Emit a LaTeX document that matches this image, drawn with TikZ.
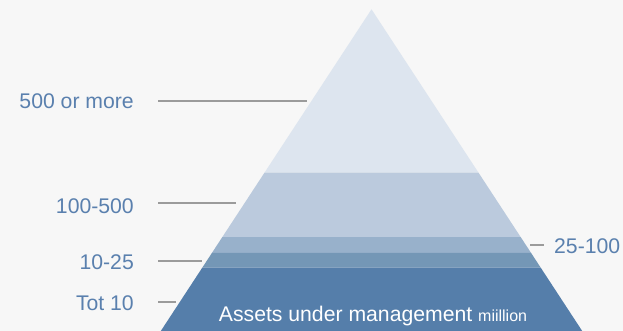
\documentclass[tikz,border=0pt]{standalone}
\usepackage{fontspec}
\setmainfont{Liberation Sans}
\usetikzlibrary{calc}

\definecolor{bgcol}{HTML}{F7F7F7}
\definecolor{tierA}{HTML}{DDE5EF}
\definecolor{tierB}{HTML}{BBCADD}
\definecolor{tierC}{HTML}{98B1CB}
\definecolor{tierD}{HTML}{7497B6}
\definecolor{tierE}{HTML}{557EAA}
\definecolor{labcol}{HTML}{5A80AE}
\definecolor{leadcol}{HTML}{9B9B9B}

\begin{document}
\begin{tikzpicture} [x=1pt,y=-1pt,
			band label/.style={text=labcol,font=\fontsize{21.2}{25}\selectfont,inner sep=0pt},
			leader/.style={leadcol,line width=1.8pt}
			]
		\fill [bgcol] (0,0) rectangle (623,331);
		\useasboundingbox (0,0) rectangle (623,331);
		% pyramid corners
		\coordinate (apex) at (371.5,9.3);
		\coordinate (bl) at (160.8,331);
		\coordinate (br) at (582.2,331);
		% band edges
		\foreach \t/\n in {0.508/a,0.708/b,0.757/c,0.803/d}{
			\coordinate (l\n) at ($(apex)!\t!(bl)$);
			\coordinate (r\n) at ($(apex)!\t!(br)$);
		}
		\fill [tierA] (apex) -- (ra) -- (la) -- cycle;
		\fill [tierB] (la) -- (ra) -- (rb) -- (lb) -- cycle;
		\fill [tierC] (lb) -- (rb) -- (rc) -- (lc) -- cycle;
		\fill [tierD] (lc) -- (rc) -- (rd) -- (ld) -- cycle;
		\fill [tierE] (ld) -- (rd) -- (br) -- (bl) -- cycle;

		\node [band label, anchor=east] (l500) at (134,101) {500 or more};
		\node [band label, anchor=east] (l100) at (134,206) {100-500};
		\node [band label, anchor=east] (l10) at (134,262) {10-25};
		\node [band label, anchor=east] (ltot) at (134,303) {Tot 10};
		\node [band label, anchor=west] (l25) at (554,246) {25-100};

		\coordinate (s500) at (158,101);
		\coordinate (e500) at (307,101);
		\coordinate (s100) at (158,203);
		\coordinate (e100) at (236,203);
		\coordinate (s10) at (158,261);
		\coordinate (e10) at (202,261);
		\coordinate (stot) at (158,302);
		\coordinate (etot) at (176,302);
		\coordinate (s25) at (530,245);
		\coordinate (e25) at (544,245);
		\draw [leader] (s500) -- (e500);
		\draw [leader] (s100) -- (e100);
		\draw [leader] (s10) -- (e10);
		\draw [leader] (stot) -- (etot);
		\draw [leader] (s25) -- (e25);

		\node [text=white, inner sep=0pt, anchor=base] (aum) at (373,321) {\fontsize{21.2}{25}\selectfont Assets under management {\fontsize{16}{18}\selectfont miillion}};
		\end{tikzpicture}
\end{document}
